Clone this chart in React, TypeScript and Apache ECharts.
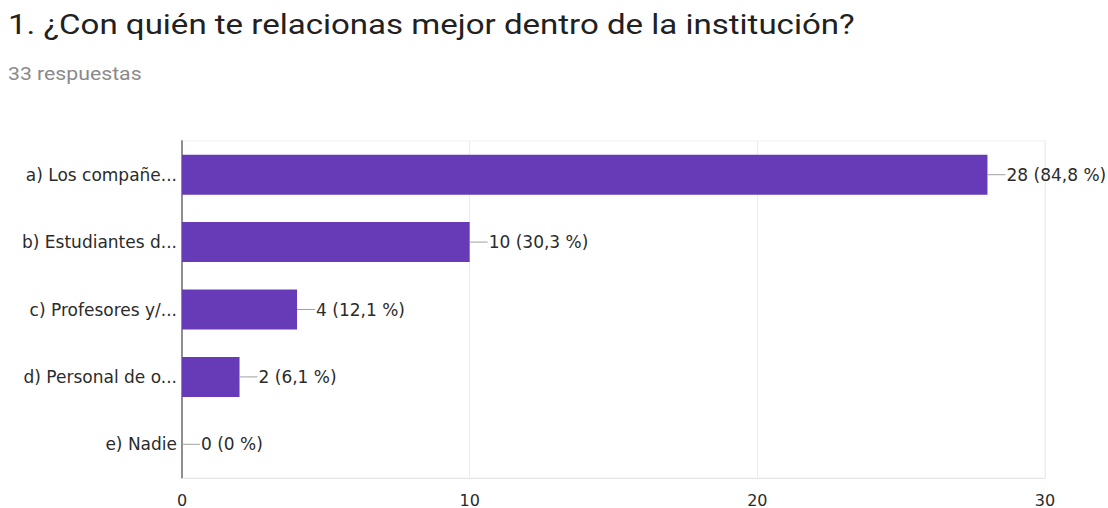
import React, { useEffect, useRef } from "react";
import * as echarts from "echarts";

const titleText = "1. ¿Con quién te relacionas mejor dentro de la institución?";
const subtitleText = "33 respuestas";
const categories = [
  "a) Los compañe...",
  "b) Estudiantes d...",
  "c) Profesores y/...",
  "d) Personal de o...",
  "e) Nadie",
];
const counts = [28, 10, 4, 2, 0];
const percents = ["84,8", "30,3", "12,1", "6,1", "0"];
const xTicks = [0, 10, 20, 30];

export default function App() {
  const ref = useRef<HTMLDivElement>(null);
  useEffect(() => {
    if (!ref.current) return;
    const chart = echarts.init(ref.current, null, { renderer: "svg" });
    const labelFont = "'DejaVu Sans', Arial, sans-serif";
    chart.setOption({
      animation: false,
      backgroundColor: "#ffffff",
      graphic: [
        {
          type: "text",
          x: 8,
          y: 10,
          scaleX: 1.18,
          style: {
            text: titleText,
            fontFamily: "Roboto, sans-serif",
            fontSize: 28,
            fill: "#212121",
            textVerticalAlign: "top",
          },
        },
        {
          type: "text",
          x: 8,
          y: 65,
          scaleX: 1.18,
          style: {
            text: subtitleText,
            fontFamily: "Roboto, sans-serif",
            fontSize: 18,
            fill: "#8a8a8a",
            textVerticalAlign: "top",
          },
        },
      ],
      grid: {
        left: 182,
        right: 63,
        top: 141,
        bottom: 30,
        containLabel: false,
        show: true,
        borderColor: "#f0f0f0",
        borderWidth: 1,
      },
      xAxis: {
        type: "value",
        min: 0,
        max: 30,
        interval: 10,
        axisLine: { show: true, lineStyle: { color: "#e6e6e6" } },
        axisTick: { show: false },
        splitLine: { show: true, lineStyle: { color: "#ececec" } },
        axisLabel: {
          fontFamily: labelFont,
          fontSize: 16,
          color: "#2b2b2b",
          margin: 14,
          formatter: (v: number) => (xTicks.includes(v) ? String(v) : ""),
        },
      },
      yAxis: {
        type: "category",
        inverse: true,
        data: categories,
        axisLine: { show: true, lineStyle: { color: "#8f8f8f", width: 2 } },
        axisTick: { show: false },
        axisLabel: {
          fontFamily: labelFont,
          fontSize: 17,
          color: "#2b2b2b",
          margin: 5,
        },
      },
      series: [
        {
          type: "bar",
          data: counts,
          barWidth: 40,
          itemStyle: { color: "#673ab7" },
          label: {
            show: true,
            position: "right",
            distance: 0,
            formatter: (p: any) =>
              `{l| }{t|${counts[p.dataIndex]} (${percents[p.dataIndex]} %)}`,
            rich: {
              l: {
                width: 18,
                height: 1,
                backgroundColor: "#a0a0a0",
                verticalAlign: "middle",
              },
              t: {
                fontFamily: labelFont,
                fontSize: 17,
                color: "#2b2b2b",
                padding: [0, 0, 0, 1],
              },
            },
          },
        },
      ],
    });
    return () => chart.dispose();
  }, []);
  return (
    <div
      ref={ref}
      style={{ position: "absolute", left: 0, top: 0, width: 1108, height: 508 }}
    />
  );
}
